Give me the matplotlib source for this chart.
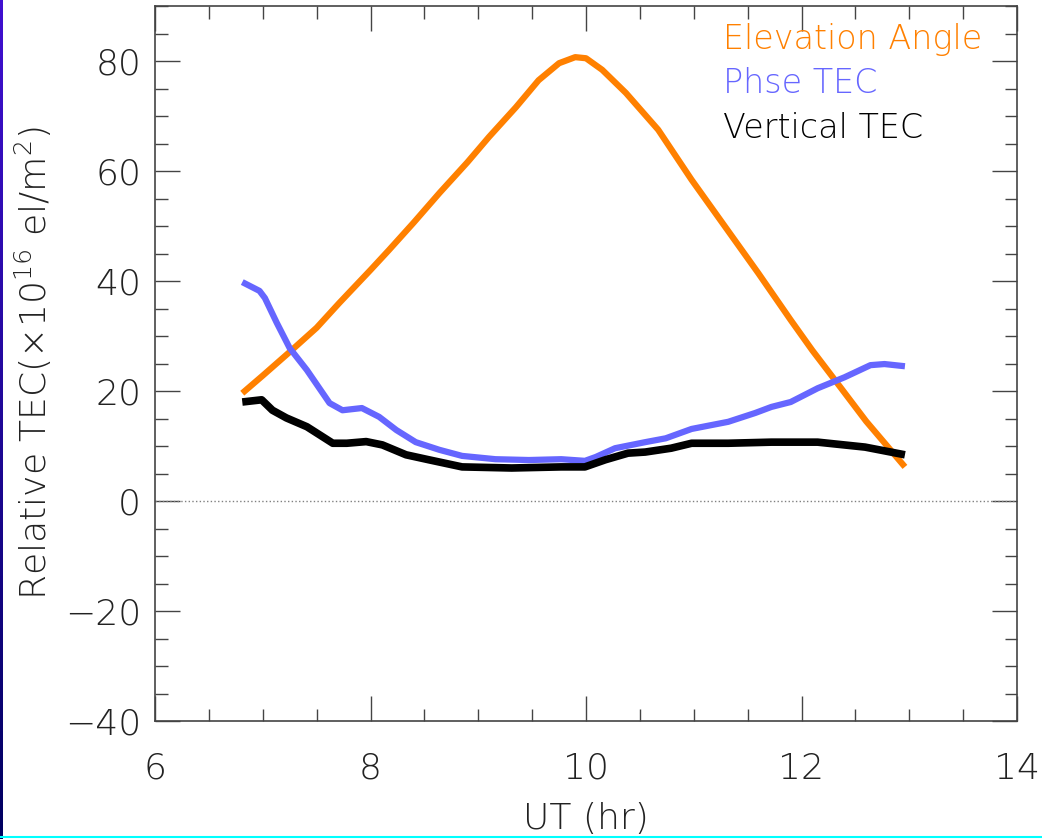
import matplotlib
matplotlib.use('Agg')
import matplotlib.pyplot as plt
import numpy as np

# 卫星仰角与TEC随UT变化
ut_elev = [6.81, 7.00, 7.25, 7.50, 7.71, 8.00, 8.17, 8.40, 8.64, 8.90, 9.10, 9.35, 9.56,
           9.75, 9.90, 10.00, 10.15, 10.37, 10.67, 10.98, 11.29, 11.60, 11.90, 12.10,
           12.31, 12.60, 12.96]
elev = [19.6, 22.8, 27.1, 31.5, 36.0, 42.0, 45.6, 50.6, 56.0, 61.6, 66.2, 71.6, 76.5,
        79.6, 80.7, 80.5, 78.4, 74.2, 67.5, 58.4, 49.9, 41.4, 32.9, 27.4,
        22.0, 14.5, 6.2]

ut_phase = [6.81, 6.97, 7.02, 7.13, 7.25, 7.41, 7.62, 7.74, 7.92, 8.08, 8.24, 8.42, 8.64,
            8.85, 9.16, 9.47, 9.77, 9.99, 10.09, 10.27, 10.55, 10.74, 10.98, 11.32,
            11.57, 11.72, 11.90, 12.15, 12.40, 12.64, 12.77, 12.96]
phase_tec = [39.8, 38.2, 36.9, 32.4, 27.8, 23.8, 17.8, 16.5, 16.9, 15.3, 12.9, 10.7, 9.3,
             8.2, 7.6, 7.45, 7.6, 7.3, 8.0, 9.6, 10.7, 11.4, 13.1, 14.4,
             16.0, 17.1, 18.0, 20.5, 22.5, 24.7, 24.9, 24.5]

ut_vert = [6.81, 6.99, 7.09, 7.22, 7.41, 7.65, 7.78, 7.96, 8.11, 8.33, 8.54, 8.85, 9.31,
           9.77, 9.99, 10.18, 10.39, 10.55, 10.79, 10.98, 11.32, 11.72, 12.15, 12.59, 12.96]
vert_tec = [18.0, 18.4, 16.5, 15.1, 13.5, 10.5, 10.5, 10.8, 10.2, 8.4, 7.5, 6.2, 6.0,
            6.2, 6.2, 7.5, 8.7, 8.9, 9.6, 10.5, 10.5, 10.7, 10.7, 9.8, 8.4]

legend_names = ['Elevation Angle', 'Phse TEC', 'Vertical TEC']
colors = ['#FF8000', '#6666FF', 'black']

fig = plt.figure(figsize=(10.42, 8.39), dpi=100)
plt.rcParams['font.family'] = ['DejaVu Sans']
plt.rcParams['font.weight'] = 'light'
plt.rcParams['mathtext.fontset'] = 'custom'
plt.rcParams['mathtext.rm'] = 'DejaVu Sans:light'
plt.rcParams['mathtext.default'] = 'rm'

# 左侧蓝边和底部青线
edge = fig.add_axes([0, 0, 3 / 1042, 1])
edge.imshow(np.linspace(0, 1, 100).reshape(-1, 1), aspect='auto',
            cmap=matplotlib.colors.LinearSegmentedColormap.from_list('e', ['#4010d0', '#000060']))
edge.axis('off')
fig.add_artist(plt.Line2D([0, 1], [2 / 839, 2 / 839], color='#00ffff', lw=1.5))

ax = fig.add_axes([155 / 1042, 118 / 839, 862 / 1042, 715 / 839])
ax.axhline(0, color='grey', ls=':', lw=1)
ax.plot(ut_elev, elev, color=colors[0], lw=4.5, solid_capstyle='butt', solid_joinstyle='round')
ax.plot(ut_phase, phase_tec, color=colors[1], lw=4.5, solid_capstyle='butt', solid_joinstyle='round')
ax.plot(ut_vert, vert_tec, color=colors[2], lw=5.5, solid_capstyle='butt', solid_joinstyle='round')

ax.set_xlim(6, 14)
ax.set_ylim(-40, 90)
ax.set_xticks([6, 8, 10, 12, 14])
ax.set_xticks(np.arange(6, 14.01, 0.5), minor=True)
ax.set_yticks([-40, -20, 0, 20, 40, 60, 80])
ax.set_yticks(np.arange(-40, 90.1, 5), minor=True)
ax.set_yticklabels(['\u221240', '\u221220', '0', '20', '40', '60', '80'])
ax.tick_params(which='both', direction='in', top=True, right=True,
               color='#444444', labelsize=26, width=1, labelcolor='#222222')
ax.tick_params(which='major', length=18)
ax.tick_params(axis='y', which='major', pad=10)
ax.tick_params(axis='x', which='major', pad=22)
ax.tick_params(which='minor', length=9)
for s in ax.spines.values():
    s.set_color('#444444')
    s.set_linewidth(1.2)

ax.set_xlabel('UT (hr)', fontsize=26, labelpad=12, color='#222222', fontweight='light')
ax.set_ylabel('Relative TEC(\u00d710$^{16}$ el/m$^{2}$)', fontsize=26, labelpad=8,
              color='#222222', fontweight='light')

for i, name in enumerate(legend_names):
    ax.text(0.659, 0.976 - i * 0.062, name, color=colors[i], fontsize=24,
            transform=ax.transAxes, va='top', ha='left')

plt.savefig('out.png', dpi=100)
